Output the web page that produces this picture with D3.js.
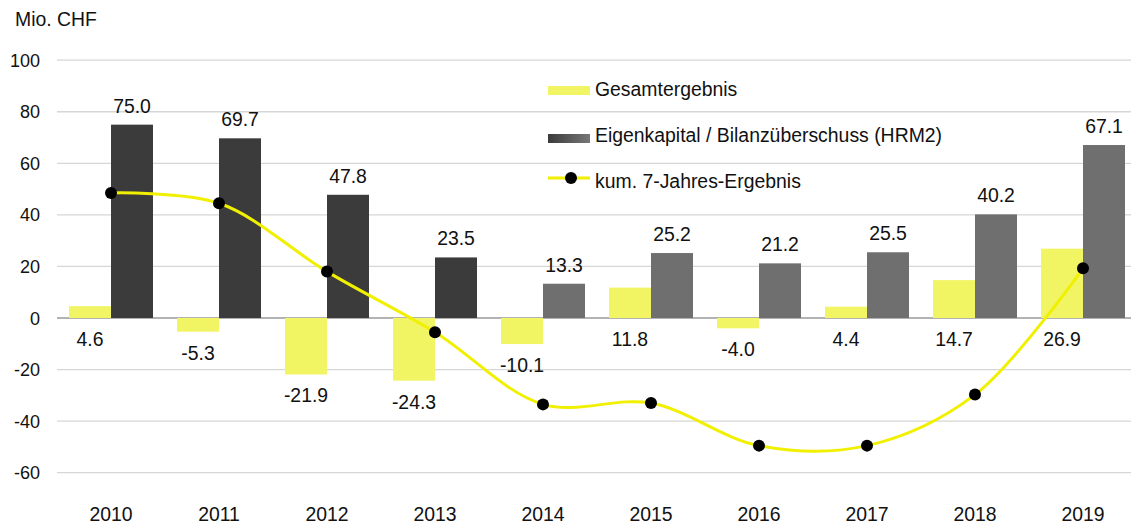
<!DOCTYPE html>
<html>
<head>
<meta charset="utf-8">
<script src="https://cdn.jsdelivr.net/npm/d3@7"></script>
<style>
  body { margin: 0; background: #fff; }
  svg { font-family: "Liberation Sans", Arial, sans-serif; }
</style>
</head>
<body>
<svg id="chart" width="1131" height="524"></svg>
<script>
const years = ["2010", "2011", "2012", "2013", "2014", "2015", "2016", "2017", "2018", "2019"];
const gesamt = [4.6, -5.3, -21.9, -24.3, -10.1, 11.8, -4.0, 4.4, 14.7, 26.9];
const eigenkapital = [75.0, 69.7, 47.8, 23.5, 13.3, 25.2, 21.2, 25.5, 40.2, 67.1];
const kum7 = [48.5, 44.5, 18.0, -5.5, -33.5, -33.0, -49.5, -49.5, -29.7, 19.3];
const yTicks = [-60, -40, -20, 0, 20, 40, 60, 80, 100];

const svg = d3.select("#chart");
const fmt = d3.formatLocale({decimal: ".", thousands: "'", grouping: [3], currency: ["", ""], minus: "-"}).format(".1f");
const fs = 19.4;

let x = d3.scaleBand().domain(years).range([57, 1137]).padding(0);
let y = d3.scaleLinear().domain([-60, 100]).range([472.7, 60.2]);
const barW = 42;

// gridlines
svg.append("g")
  .selectAll("line")
  .data(yTicks).enter()
  .append("line")
  .attr("x1", 57).attr("x2", 1131)
  .attr("y1", d => y(d)).attr("y2", d => y(d))
  .attr("stroke", d => d === 0 ? "#9a9a9a" : "#d6d6d6")
  .attr("stroke-width", 1.3);

// y axis labels
svg.append("g")
  .selectAll("text")
  .data(yTicks).enter()
  .append("text")
  .attr("x", 40).attr("y", d => y(d) + 6.5)
  .attr("text-anchor", "end")
  .attr("font-size", 18)
  .attr("fill", "#111")
  .text(d => d);

svg.append("text")
  .attr("x", 15).attr("y", 26)
  .attr("font-size", fs)
  .attr("fill", "#111")
  .text("Mio. CHF");

// x labels
svg.append("g")
  .selectAll("text")
  .data(years).enter()
  .append("text")
  .attr("x", d => x(d) + x.bandwidth() / 2)
  .attr("y", 521)
  .attr("text-anchor", "middle")
  .attr("font-size", fs)
  .attr("fill", "#111")
  .text(d => d);

const center = i => x(years[i]) + x.bandwidth() / 2;

// yellow bars
svg.append("g")
  .selectAll("rect")
  .data(gesamt).enter()
  .append("rect")
  .attr("x", (d, i) => center(i) - barW)
  .attr("width", barW)
  .attr("y", d => y(Math.max(0, d)))
  .attr("height", d => Math.abs(y(d) - y(0)))
  .attr("fill", "#f2f563");

// gray bars
svg.append("g")
  .selectAll("rect")
  .data(eigenkapital).enter()
  .append("rect")
  .attr("x", (d, i) => center(i))
  .attr("width", barW)
  .attr("y", d => y(d))
  .attr("height", d => y(0) - y(d))
  .attr("fill", (d, i) => i < 4 ? "#3b3b3b" : "#6f6f6f");

// labels
svg.append("g")
  .selectAll("text")
  .data(eigenkapital).enter()
  .append("text")
  .attr("x", (d, i) => center(i) + barW / 2)
  .attr("y", d => y(d) - 12)
  .attr("text-anchor", "middle")
  .attr("font-size", fs)
  .attr("fill", "#111")
  .text(d => fmt(d));

svg.append("g")
  .selectAll("text")
  .data(gesamt).enter()
  .append("text")
  .attr("x", (d, i) => center(i) - barW / 2)
  .attr("y", d => Math.max(y(0), y(d)) + 28)
  .attr("text-anchor", "middle")
  .attr("font-size", fs)
  .attr("fill", "#111")
  .text(d => fmt(d));

// cumulative line
const line = d3.line()
  .x((d, i) => center(i))
  .y(d => y(d))
  .curve(d3.curveCatmullRom.alpha(0.5));

svg.append("path")
  .datum(kum7)
  .attr("d", line)
  .attr("fill", "none")
  .attr("stroke", "#f0f000")
  .attr("stroke-width", 3);

svg.append("g")
  .selectAll("circle")
  .data(kum7).enter()
  .append("circle")
  .attr("cx", (d, i) => center(i))
  .attr("cy", d => y(d))
  .attr("r", 6)
  .attr("fill", "#000");

// legend
const defs = svg.append("defs");
const grad = defs.append("linearGradient").attr("id", "grayGrad");
grad.append("stop").attr("offset", "0%").attr("stop-color", "#3b3b3b");
grad.append("stop").attr("offset", "100%").attr("stop-color", "#777");

const legend = svg.append("g");
legend.append("rect").attr("x", 548).attr("y", 86).attr("width", 42).attr("height", 9).attr("fill", "#f2f563");
legend.append("rect").attr("x", 548).attr("y", 134).attr("width", 42).attr("height", 9).attr("fill", "url(#grayGrad)");
legend.append("line").attr("x1", 548).attr("x2", 590).attr("y1", 178).attr("y2", 178)
  .attr("stroke", "#f0f000").attr("stroke-width", 3);
legend.append("circle").attr("cx", 571).attr("cy", 178).attr("r", 6).attr("fill", "#000");

const legendLabels = ["Gesamtergebnis", "Eigenkapital / Bilanzüberschuss (HRM2)", "kum. 7-Jahres-Ergebnis"];
legend.selectAll("text")
  .data(legendLabels).enter()
  .append("text")
  .attr("x", 595)
  .attr("y", (d, i) => 96 + i * 46)
  .attr("font-size", fs)
  .attr("fill", "#111")
  .text(d => d);
</script>
</body>
</html>
